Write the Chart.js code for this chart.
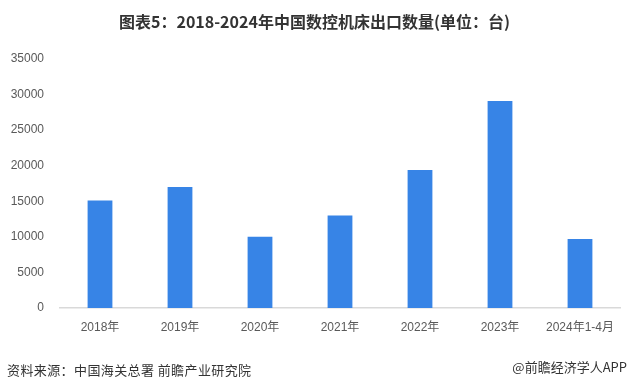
<!DOCTYPE html>
<html>
<head>
<meta charset="utf-8">
<script src="https://cdn.jsdelivr.net/npm/chart.js@4/dist/chart.umd.min.js"></script>
<style>
  html, body { margin: 0; padding: 0; background: #ffffff; }
  #wrap { position: relative; width: 629px; height: 390px; overflow: hidden; }
  #c { position: absolute; left: 0; top: 0; }
  #title { position: absolute; left: 0; top: 8px; width: 629px; text-align: center;
    font-family: "Noto Sans CJK SC", sans-serif; font-weight: bold; font-size: 16px; color: #333333; line-height: 26px; }
  #src { position: absolute; left: 7px; top: 360px; font-family: "Noto Sans CJK SC", sans-serif;
    font-size: 13px; color: #333333; letter-spacing: 0.4px; line-height: 20px; }
  #app { position: absolute; right: 2px; top: 357px; font-family: "Noto Sans CJK SC", sans-serif;
    font-size: 13px; color: #333333; line-height: 20px; }
</style>
</head>
<body>
<div id="wrap">
  <canvas id="c" width="629" height="390"></canvas>
  <div id="title">图表5：2018-2024年中国数控机床出口数量(单位：台)</div>
  <div id="src">资料来源：中国海关总署 前瞻产业研究院</div>
  <div id="app">@前瞻经济学人APP</div>
</div>
<script>
const categories = ["2018年", "2019年", "2020年", "2021年", "2022年", "2023年", "2024年1-4月"];
const exportUnits = [15100, 17000, 10000, 13000, 19400, 29100, 9700];
const yTicks = [0, 5000, 10000, 15000, 20000, 25000, 30000, 35000];

new Chart(document.getElementById('c'), {
  type: 'bar',
  data: {
    labels: categories,
    datasets: [{
      label: '出口数量',
      data: exportUnits,
      backgroundColor: '#3784e6',
      categoryPercentage: 1.0,
      barPercentage: 0.31
    }]
  },
  options: {
    responsive: false,
    animation: false,
    devicePixelRatio: 1,
    layout: { padding: { left: 0, right: 9, top: 59, bottom: 0 } },
    plugins: { legend: { display: false }, tooltip: { enabled: false }, title: { display: false } },
    scales: {
      x: {
        grid: { display: false, drawTicks: false },
        border: { display: true, color: '#d9d9d9', width: 1.5 },
        ticks: { color: '#595959', font: { family: 'Liberation Sans, "Noto Sans CJK SC", sans-serif', size: 12 }, padding: 12, maxRotation: 0, autoSkip: false },
        afterFit: (s) => { s.height = 82; }
      },
      y: {
        min: 0, max: 35000,
        afterBuildTicks: (s) => { s.ticks = yTicks.map(v => ({ value: v })); },
        grid: { display: false, drawTicks: false },
        border: { display: false },
        ticks: { color: '#595959', font: { family: 'Liberation Sans, sans-serif', size: 12 }, padding: 16,
          callback: (v) => String(v) },
        afterFit: (s) => { s.width = 60; }
      }
    }
  }
});
</script>
</body>
</html>
